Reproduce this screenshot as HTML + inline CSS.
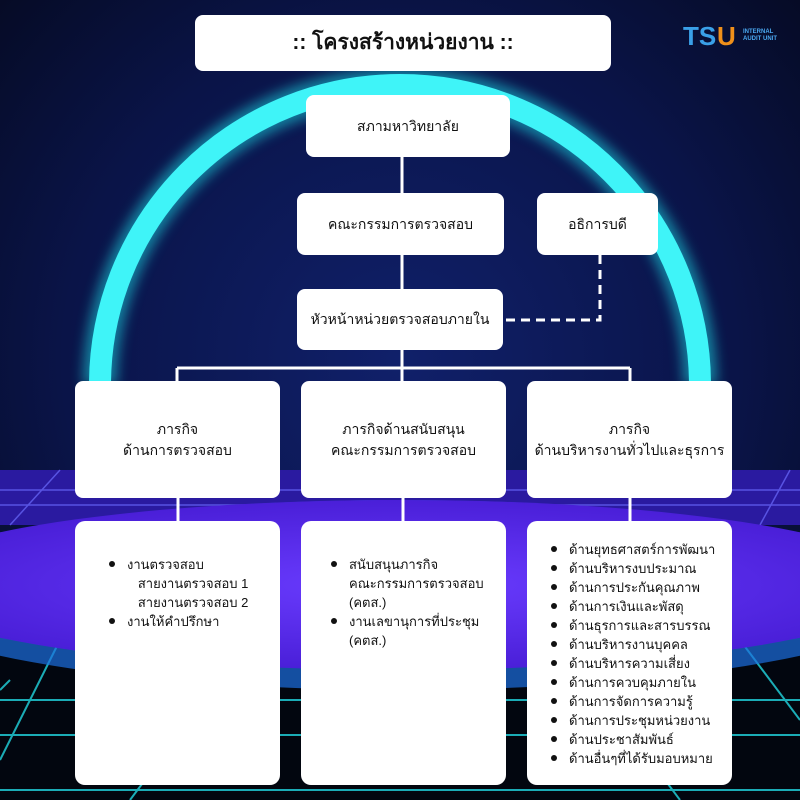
<!DOCTYPE html>
<html><head><meta charset="utf-8"><style>
body{margin:0;width:800px;height:800px;overflow:hidden;font-family:"Liberation Sans","Noto Sans CJK SC",sans-serif;}
.b{position:absolute;background:#fff;border-radius:8px;display:flex;align-items:center;justify-content:center;text-align:center;font-size:14px;color:#111;line-height:1.5}
.l{position:absolute;background:#fff;border-radius:10px;font-size:13px;color:#111;line-height:19px}
ul{margin:0;padding-left:0;list-style:none}
li{position:relative;padding-left:18px}
li.d:before{content:"";position:absolute;left:0;top:6px;width:6px;height:6px;border-radius:50%;background:#111}
</style></head><body>
<svg width="800" height="800" style="position:absolute;left:0;top:0">
<defs>
<radialGradient id="bg" cx="50%" cy="45%" r="70%"><stop offset="0" stop-color="#10206a"/><stop offset="0.6" stop-color="#0a1448"/><stop offset="1" stop-color="#050a22"/></radialGradient>
<radialGradient id="pl" cx="50%" cy="50%" r="50%"><stop offset="0" stop-color="#6a3cff"/><stop offset="1" stop-color="#4a1fd8"/></radialGradient>
<filter id="gl"><feGaussianBlur stdDeviation="6"/></filter>
</defs>
<rect width="800" height="800" fill="url(#bg)"/>
<rect y="640" width="800" height="160" fill="#02060f"/>
<g stroke="#22d6e0" stroke-width="2" opacity="0.8">
<line x1="0" y1="700" x2="800" y2="700"/><line x1="0" y1="735" x2="800" y2="735"/><line x1="0" y1="790" x2="800" y2="790"/>
<line x1="60" y1="640" x2="0" y2="760"/><line x1="10" y1="680" x2="0" y2="690"/><line x1="250" y1="640" x2="130" y2="800"/><line x1="560" y1="640" x2="680" y2="800"/><line x1="740" y1="640" x2="800" y2="720"/>
</g>
<path d="M100 385 A300 300 0 0 1 700 385" fill="none" stroke="#1fe8f0" stroke-width="34" opacity="0.5" filter="url(#gl)"/>
<path d="M100 385 A300 300 0 0 1 700 385" fill="none" stroke="#3ff4f8" stroke-width="22"/>
<rect y="470" width="800" height="55" fill="#2a1aa0"/>
<g stroke="#6c6cff" stroke-width="1.5" opacity="0.7"><line x1="0" y1="490" x2="800" y2="490"/><line x1="0" y1="505" x2="800" y2="505"/><line x1="10" y1="525" x2="60" y2="470"/><line x1="760" y1="525" x2="790" y2="470"/></g>
<ellipse cx="400" cy="595" rx="520" ry="95" fill="#1d6fe0" opacity="0.7"/>
<ellipse cx="400" cy="585" rx="510" ry="85" fill="url(#pl)"/>
<g stroke="#fff" stroke-width="3" fill="none">
<line x1="402" y1="157" x2="402" y2="289"/><line x1="402" y1="350" x2="402" y2="368"/>
<line x1="177" y1="368" x2="630" y2="368"/><line x1="177" y1="368" x2="177" y2="381"/><line x1="630" y1="368" x2="630" y2="381"/><line x1="402" y1="368" x2="402" y2="381"/>
<line x1="178" y1="498" x2="178" y2="521"/><line x1="403" y1="498" x2="403" y2="521"/><line x1="630" y1="498" x2="630" y2="521"/>
<path d="M600 255 V320 H503" stroke-dasharray="9 6"/>
</g>
<text x="683" y="45" font-family="Liberation Sans" font-weight="bold" font-size="26" fill="#3aa0e8">TS</text>
<text x="717" y="45" font-family="Liberation Sans" font-weight="bold" font-size="26" fill="#f0901a">U</text>
<text x="743" y="33" font-size="6" fill="#4aa8f0" font-family="Liberation Sans" font-weight="bold">INTERNAL</text>
<text x="743" y="40" font-size="6" fill="#4aa8f0" font-family="Liberation Sans" font-weight="bold">AUDIT UNIT</text>
</svg>
<div class="b" style="left:195px;top:15px;width:416px;height:56px;font-size:21px;font-weight:bold">:: โครงสร้างหน่วยงาน ::</div>
<div class="b" style="left:306px;top:95px;width:204px;height:62px">สภามหาวิทยาลัย</div>
<div class="b" style="left:297px;top:193px;width:207px;height:62px">คณะกรรมการตรวจสอบ</div>
<div class="b" style="left:537px;top:193px;width:121px;height:62px">อธิการบดี</div>
<div class="b" style="left:297px;top:289px;width:206px;height:61px">หัวหน้าหน่วยตรวจสอบภายใน</div>
<div class="b" style="left:75px;top:381px;width:205px;height:117px">ภารกิจ<br>ด้านการตรวจสอบ</div>
<div class="b" style="left:301px;top:381px;width:205px;height:117px">ภารกิจด้านสนับสนุน<br>คณะกรรมการตรวจสอบ</div>
<div class="b" style="left:527px;top:381px;width:205px;height:117px">ภารกิจ<br>ด้านบริหารงานทั่วไปและธุรการ</div>
<div class="l" style="left:75px;top:521px;width:205px;height:264px"><ul style="padding:34px 0 0 34px">
<li class="d">งานตรวจสอบ</li><li>&nbsp;&nbsp;&nbsp;สายงานตรวจสอบ 1</li><li>&nbsp;&nbsp;&nbsp;สายงานตรวจสอบ 2</li><li class="d">งานให้คำปรึกษา</li></ul></div>
<div class="l" style="left:301px;top:521px;width:205px;height:264px"><ul style="padding:34px 0 0 30px">
<li class="d">สนับสนุนภารกิจ<br>คณะกรรมการตรวจสอบ<br>(คตส.)</li><li class="d">งานเลขานุการที่ประชุม<br>(คตส.)</li></ul></div>
<div class="l" style="left:527px;top:521px;width:205px;height:264px"><ul style="padding:19px 0 0 24px">
<li class="d">ด้านยุทธศาสตร์การพัฒนา</li><li class="d">ด้านบริหารงบประมาณ</li><li class="d">ด้านการประกันคุณภาพ</li><li class="d">ด้านการเงินและพัสดุ</li><li class="d">ด้านธุรการและสารบรรณ</li><li class="d">ด้านบริหารงานบุคคล</li><li class="d">ด้านบริหารความเสี่ยง</li><li class="d">ด้านการควบคุมภายใน</li><li class="d">ด้านการจัดการความรู้</li><li class="d">ด้านการประชุมหน่วยงาน</li><li class="d">ด้านประชาสัมพันธ์</li><li class="d">ด้านอื่นๆที่ได้รับมอบหมาย</li></ul></div>
</body></html>
